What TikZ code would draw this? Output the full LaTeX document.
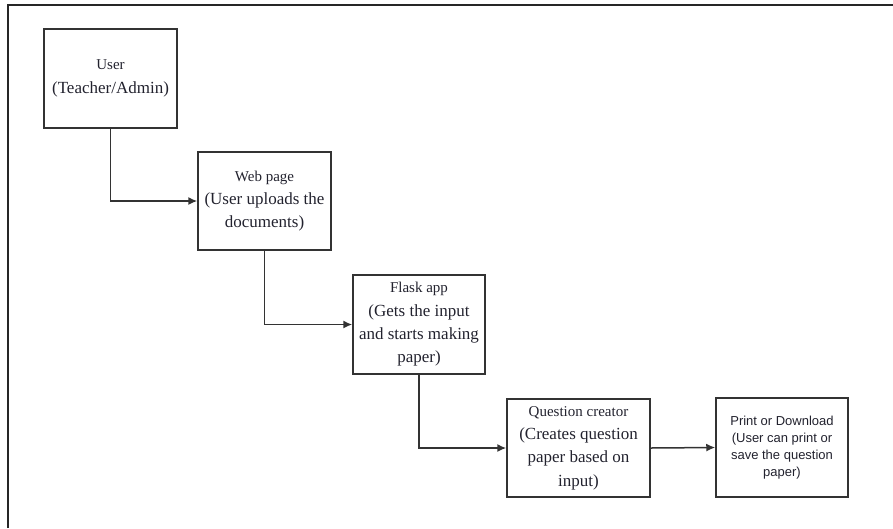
\documentclass[tikz,border=0pt]{standalone}
\usepackage{fontspec}
\setmainfont{Liberation Serif}
\newfontfamily\sansf{Liberation Sans}
\usetikzlibrary{arrows.meta}
\definecolor{linec}{HTML}{333333}
\definecolor{textc}{HTML}{22222E}
\tikzset{
  flowbox/.style={draw=linec, line width=1.5pt, inner sep=0pt, align=center,
    text=textc, font=\fontsize{17}{23.3}\selectfont},
  sansbox/.style={flowbox, font=\sansf\fontsize{13}{17}\selectfont},
  flowarrow/.style={draw=linec, line width=1.5pt, -{Latex[length=9pt,width=8pt]}}
}
\newcommand{\ttlline}[1]{{\fontsize{15}{23.3}\selectfont #1}}
\begin{document}
\begin{tikzpicture}[x=1pt,y=-1pt]
\useasboundingbox (0,0) rectangle (893,528);
% frame
\coordinate (fr1) at (8,528);
\coordinate (fr2) at (8,5);
\coordinate (fr3) at (893,5);
\draw[draw=black!85, line width=2pt] (fr1) -- (fr2) -- (fr3);
% boxes
\node[flowbox, minimum width=133pt, minimum height=99pt] (user) at (110.5,78.5)
  {\ttlline{User}\\(Teacher/Admin)};
\node[flowbox, minimum width=133pt, minimum height=98pt] (web) at (264.5,201)
  {\ttlline{Web page}\\(User uploads the\\documents)};
\node[flowbox, minimum width=132pt, minimum height=99pt] (flask) at (419,324.5)
  {\ttlline{Flask app}\\(Gets the input\\and starts making\\paper)};
\node[flowbox, minimum width=143pt, minimum height=98pt] (qc) at (578.5,448)
  {\ttlline{Question creator}\\(Creates question\\paper based on\\input)};
\node[sansbox, minimum width=132pt, minimum height=99pt] (pd) at (782,447.5)
  {Print or Download\\(User can print or\\save the question\\paper)};
% connectors
\draw[flowarrow] (user.south) |- (web.west);
\draw[flowarrow] (web.south) |- (flask.west);
\draw[flowarrow] (flask.south) |- (qc.west);
\draw[flowarrow] (qc.east) -- (pd.west);
\end{tikzpicture}
\end{document}
